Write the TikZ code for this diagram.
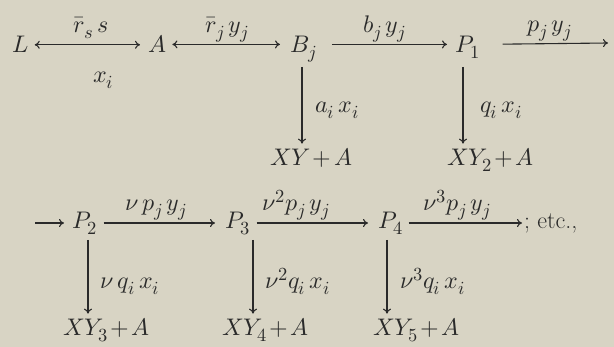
\documentclass[tikz,border=0pt]{standalone}
\usepackage{unicode-math}
\setmathfont{Latin Modern Math}
\usetikzlibrary{arrows.meta}
\definecolor{paper}{HTML}{D8D4C4}
\definecolor{ink}{HTML}{2A2A2A}
\DeclareMathSizes{24}{24}{18.5}{14}
\newcommand{\pl}{\mathbin{\mkern-2mu+\mkern-2mu}}
\begin{document}
\begin{tikzpicture}[x=1pt,y=-1pt,
  font=\fontsize{24}{28}\selectfont,
  every node/.style={inner sep=0pt, text=ink, anchor=base west},
  tipr/.tip={Computer Modern Rightarrow[length=5pt,width=8pt]},
  arr/.style={draw=ink, line width=1.1pt, -tipr},
  biarr/.style={draw=ink, line width=1.1pt, tipr-tipr}]
\fill[paper] (0,0) rectangle (614,347);
\useasboundingbox (0,0) rectangle (614,347);
% row 1
\node (L) at (12,53) {$L$};
\node (A) at (148,53) {$A$};
\node (B) at (290,53) {$B_j$};
\node (P1) at (455,53) {$P_1$};
\node (XY1) at (270,166) {$XY\pl A$};
\node (XY2) at (447,166) {$XY_2\pl A$};
% row 2
\node (P2) at (72,229) {$P_2$};
\node (P3) at (225,229) {$P_3$};
\node (P4) at (378,229) {$P_4$};
\node (XY3) at (63,336) {$XY_3\pl A$};
\node (XY4) at (222,336) {$XY_4\pl A$};
\node (XY5) at (373,336) {$XY_5\pl A$};
\node (etc) at (524,229) {; etc.,};
% labels
\node (lLA) at (73,33) {$\bar r_s\,s$};
\node (lx) at (93,83) {$x_i$};
\node (lAB) at (205,33) {$\bar r_j\,y_j$};
\node (lBP) at (363,33) {$b_j\,y_j$};
\node (lP1) at (527,32) {$p_j\,y_j$};
\node (la) at (315,113) {$a_i\,x_i$};
\node (lq) at (480,113) {$q_i\,x_i$};
\node (l23) at (125,211) {$\nu\,p_j\,y_j$};
\node (l34) at (262,211) {$\nu^2p_j\,y_j$};
\node (l4e) at (423,211) {$\nu^3p_j\,y_j$};
\node (lv2) at (100,289) {$\nu\,q_i\,x_i$};
\node (lv3) at (265,289) {$\nu^2q_i\,x_i$};
\node (lv4) at (400,289) {$\nu^3q_i\,x_i$};
% free ends
\coordinate (in2) at (35,223);
\coordinate (out1) at (608,43);
\coordinate (out4) at (522,223);
% vertical arrow start points
\coordinate (vB) at ([shift={(12,14)}]B.base west);
\coordinate (vP1) at ([shift={(8,14)}]P1.base west);
\coordinate (vP2) at ([shift={(16,11)}]P2.base west);
\coordinate (vP3) at ([shift={(28,11)}]P3.base west);
\coordinate (vP4) at ([shift={(9,11)}]P4.base west);
% horizontal arrows
\draw[biarr, shorten <=6pt, shorten >=8pt] (L.east) -- (L.east -| A.west);
\draw[biarr, shorten <=6pt, shorten >=10pt] (A.east) -- (A.east -| B.west);
\draw[arr, shorten <=15pt, shorten >=8pt] (B.east |- A.east) -- (A.east -| P1.west);
\draw[arr, shorten <=22pt] (P1.east |- A.east) -- (out1);
\draw[arr, shorten >=8pt] (in2) -- (in2 -| P2.west);
\draw[arr, shorten <=6pt, shorten >=10pt] (P2.east |- in2) -- (in2 -| P3.west);
\draw[arr, shorten <=6pt, shorten >=10pt] (P3.east |- in2) -- (in2 -| P4.west);
\draw[arr, shorten <=5pt] (P4.east |- in2) -- (out4);
% vertical arrows
\draw[arr, shorten >=5pt] (vB) -- (vB |- XY1.north);
\draw[arr, shorten >=5pt] (vP1) -- (vP1 |- XY2.north);
\draw[arr, shorten >=5pt] (vP2) -- (vP2 |- XY3.north);
\draw[arr, shorten >=5pt] (vP3) -- (vP3 |- XY4.north);
\draw[arr, shorten >=5pt] (vP4) -- (vP4 |- XY5.north);
\end{tikzpicture}
\end{document}
